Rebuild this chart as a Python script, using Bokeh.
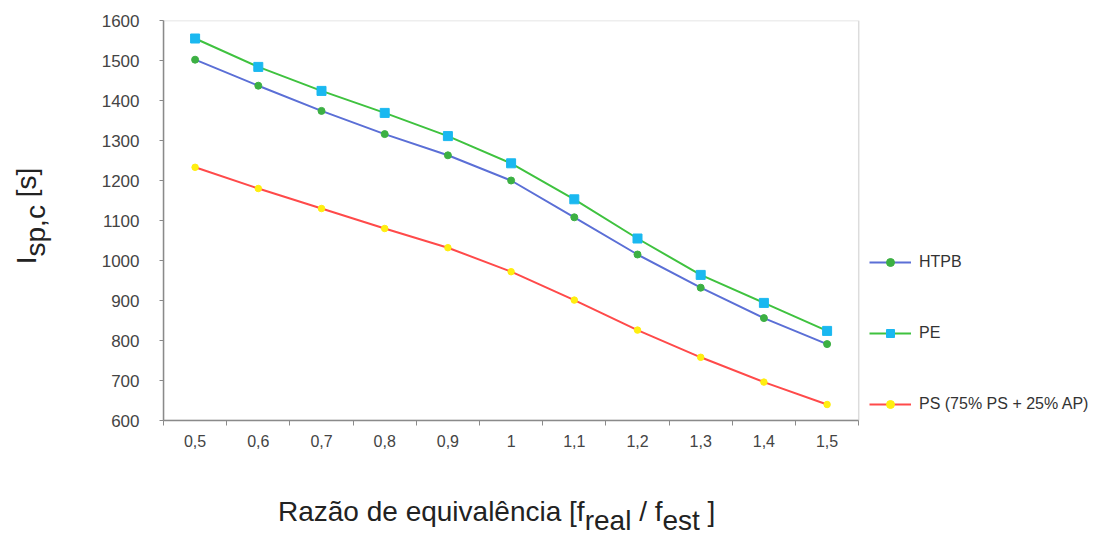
from bokeh.plotting import figure
from bokeh.layouts import row, column
from bokeh.models import FixedTicker, Legend, LegendItem, Range1d, Div, BoxAnnotation
from bokeh.embed import file_html
from bokeh.resources import INLINE

categories = ["0,5", "0,6", "0,7", "0,8", "0,9", "1", "1,1", "1,2", "1,3", "1,4", "1,5"]
htpb = [1502, 1437, 1374, 1316, 1263, 1200, 1108, 1015, 932, 856, 791]
pe = [1555, 1484, 1424, 1369, 1311, 1243, 1153, 1055, 964, 894, 824]
ps = [1233, 1180, 1130, 1080, 1032, 972, 901, 826, 758, 696, 640]
y_ticks = [600, 700, 800, 900, 1000, 1100, 1200, 1300, 1400, 1500, 1600]
y_title = ("I", "sp,c", "[s]")
x_title = ("Razão de equivalência [f", "real", " / f", "est", " ]")

n = len(categories)
x = list(range(n))
FONT = "Liberation Sans"
TXT = "#222222"
GRAY = "#8a8a8a"

# ---------- main chart (frame extends right to hold the legend) ----------
p = figure(width=1041, height=470, output_backend="svg", toolbar_location=None,
           x_range=Range1d(-0.5, n - 0.5 + 4), y_range=Range1d(600, 1600),
           min_border_left=93, min_border_top=20, min_border_right=0, min_border_bottom=50)
p.xgrid.visible = False
p.ygrid.visible = False
p.outline_line_color = None

# plot-area border (top and right sides)
p.add_layout(BoxAnnotation(left=-0.5, right=n - 0.5, bottom=600, top=1600,
                           fill_alpha=0, line_color=GRAY, line_width=1.5))

xa = p.xaxis[0]
xa.bounds = (-0.5, n - 0.5)
xa.ticker = FixedTicker(ticks=x, minor_ticks=[i - 0.5 for i in range(n + 1)])
xa.major_label_overrides = {i: c for i, c in enumerate(categories)}
xa.major_tick_out = 0
xa.major_tick_in = 0
xa.minor_tick_out = 5
xa.minor_tick_in = 0
xa.minor_tick_line_color = GRAY
xa.axis_line_color = GRAY
xa.axis_line_width = 1.5
xa.major_label_standoff = 9
xa.major_label_text_font = FONT
xa.major_label_text_font_size = "16px"
xa.major_label_text_color = "#444444"

ya = p.yaxis[0]
ya.ticker = FixedTicker(ticks=y_ticks, minor_ticks=[])
ya.major_tick_out = 4
ya.major_tick_in = 0
ya.major_tick_line_color = GRAY
ya.axis_line_color = GRAY
ya.axis_line_width = 1.5
ya.major_label_standoff = 20
ya.major_label_text_font = FONT
ya.major_label_text_font_size = "17px"
ya.major_label_text_color = "#444444"

series = [
    ("HTPB", htpb, "#5b6fd6", "#3cb043", "circle", 7),
    ("PE", pe, "#3fc23f", "#1ab8f0", "square", 9),
    ("PS (75% PS + 25% AP)", ps, "#ff4a4a", "#ffee10", "circle", 6.5),
]
items = []
for name, ys, lc, mc, mk, sz in series:
    l = p.line(x, ys, line_color=lc, line_width=2)
    s = p.scatter(x, ys, marker=mk, size=sz, fill_color=mc, line_color=mc)
    items.append(LegendItem(label=name, renderers=[l, s]))

legend = Legend(items=items, location=(706, 6), border_line_color=None,
                background_fill_alpha=0, padding=0, margin=0, spacing=51,
                glyph_height=20, glyph_width=42, label_standoff=8,
                label_text_font=FONT, label_text_font_size="16px",
                label_text_color="#333333")
p.add_layout(legend)

# ---------- axis titles (real text with subscripts) ----------
base = f"font-family:'{FONT}',sans-serif;font-size:28px;line-height:28px;color:{TXT};white-space:nowrap;"
sub = "font-size:28px;vertical-align:-9px;line-height:0;"

ydiv = Div(width=70, height=470, margin=0, text=(
    f'<div style="position:relative;width:70px;height:470px;">'
    f'<div style="position:absolute;left:27px;top:216px;transform:translate(-50%,-50%) rotate(-90deg);{base}">'
    f'{y_title[0]}<span style="{sub}">{y_title[1]}</span> {y_title[2]}</div></div>'))

xdiv = Div(width=1110, height=66, margin=0, text=(
    f'<div style="position:relative;width:1110px;height:66px;">'
    f'<div style="position:absolute;left:278px;top:28px;{base}">'
    f'{x_title[0]}<span style="{sub}">{x_title[1]}</span>{x_title[2]}'
    f'<span style="{sub}">{x_title[3]}</span>{x_title[4]}</div></div>'))

layout = column(row(ydiv, p, spacing=0), xdiv, spacing=0)
open("out.html", "w").write(file_html(layout, INLINE))
